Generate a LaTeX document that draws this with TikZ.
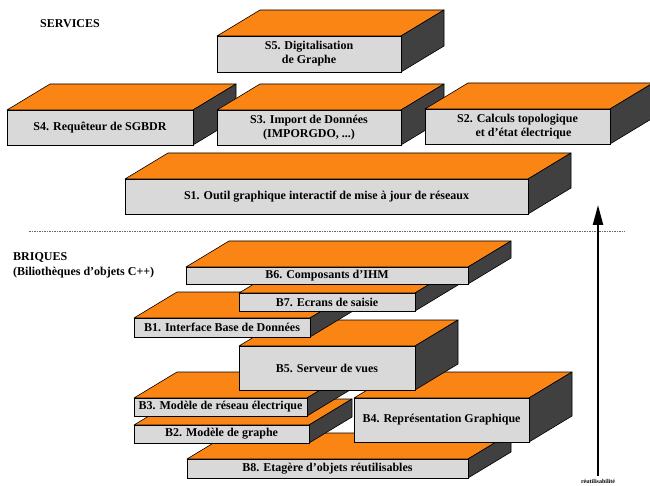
\documentclass[tikz,border=0pt]{standalone}
\usepackage{fontspec}
\setmainfont{Liberation Serif}
\usetikzlibrary{arrows.meta}
\definecolor{dessus}{RGB}{250,132,20}
\definecolor{avant}{RGB}{217,217,217}
\definecolor{flanc}{RGB}{64,64,64}
\newcommand{\brique}[6]{%
\filldraw[brdessus] (#2,#3) -- (#2+43,#3-26) -- (#4+43,#3-26) -- (#4,#3) -- cycle;
\filldraw[brflanc] (#4,#3) -- (#4+43,#3-26) -- (#4+43,#5-26) -- (#4,#5) -- cycle;
\filldraw[bravant] (#2,#3) rectangle (#4,#5);
\node[brtexte] (#1) at ({(#2+#4)/2},{(#3+#5)/2}) {#6};}

\begin{document}
\begin{tikzpicture}[x=1pt,y=-1pt, every node/.style={font=\bfseries\fontsize{12}{14}\selectfont},
brdessus/.style={fill=dessus,draw=black,line width=.6pt,line join=round},
brflanc/.style={fill=flanc,draw=black,line width=.6pt,line join=round},
bravant/.style={fill=avant,draw=black,line width=.6pt},
brtexte/.style={align=center,inner sep=0pt},
titre/.style={anchor=west,inner sep=0pt},
>={Triangle[length=20pt,width=10pt]}]
\useasboundingbox (0,0) rectangle (650,486);
\node[titre] (services) at (40,24) {SERVICES};
\brique{s5}{217}{36}{401}{72}{S5. Digitalisation\\de Graphe}
\brique{s4}{7}{110}{193}{145}{S4. Requêteur de SGBDR}
\brique{s3}{217}{110}{401}{145}{S3. Import de Données\\(IMPORGDO, ...)}
\brique{s2}{425}{109}{610}{144}{S2. Calculs topologique\\\hspace*{1em}et d’état électrique}
\brique{s1}{125}{179}{528}{214}{S1. Outil graphique interactif de mise à jour de réseaux}
\coordinate (sepg) at (29,231); \coordinate (sepd) at (625,231);
\draw[gray!80!black,line width=.6pt,dash pattern=on 1.5pt off 1pt] (sepg) -- (sepd);
\node[titre] (briques) at (13,258) {BRIQUES};
\node[titre] (biblio) at (13,273) {(Biliothèques d’objets C++)};
\brique{b8}{187}{459}{468}{478}{B8. Etagère d’objets réutilisables}
\brique{b2}{134}{425}{309}{443}{B2. Modèle de graphe}
\brique{b3}{134}{398}{307}{416}{B3. Modèle de réseau électrique}
\brique{b4}{354}{398}{529}{442}{B4. Représentation Graphique}
\brique{b5}{239}{346}{415}{390}{B5. Serveur de vues}
\brique{b1}{134}{318}{310}{337}{B1. Interface Base de Données}
\brique{b7}{239}{293}{415}{311}{B7. Ecrans de saisie}
\brique{b6}{186}{267}{468}{284}{B6. Composants d’IHM}
\node[font=\bfseries\fontsize{6}{7}\selectfont,inner sep=0pt] (reuse) at (598,481.5) {réutilisabilité};
\coordinate (pied) at (598,476); \coordinate (sommet) at (598,205);
\draw[->,line width=2.2pt] (pied) -- (sommet);
\end{tikzpicture}
\end{document}
